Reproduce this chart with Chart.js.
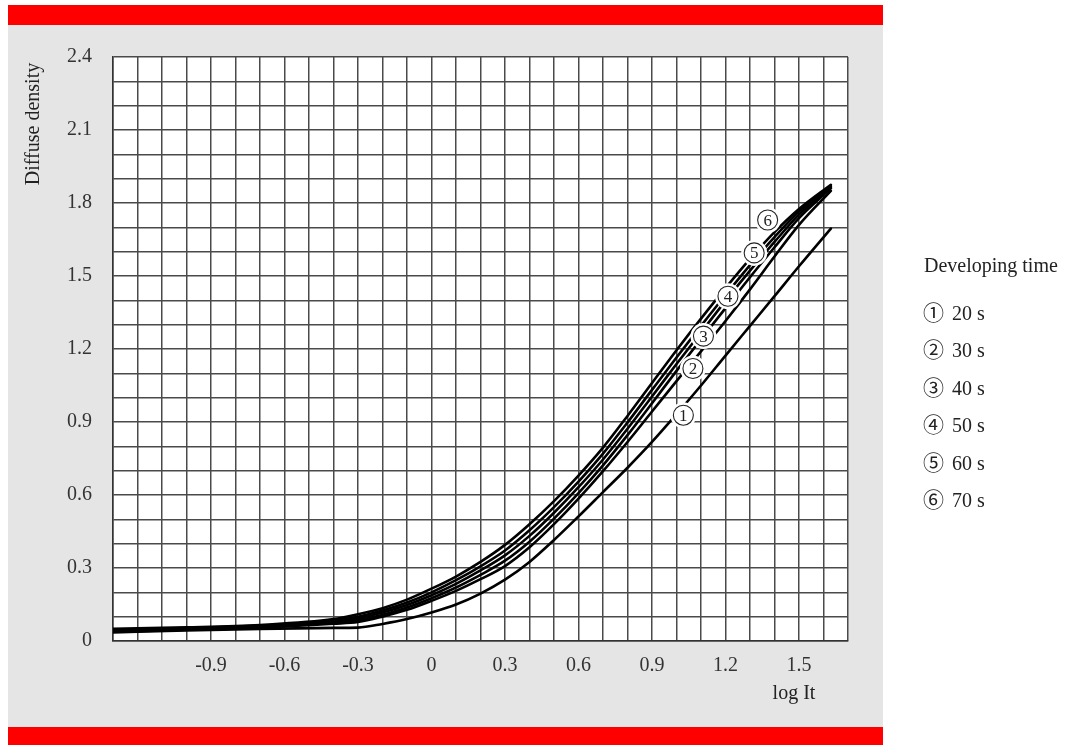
<!DOCTYPE html>
<html>
<head>
<meta charset="utf-8">
<script src="https://cdn.jsdelivr.net/npm/chart.js@4"></script>
<style>
  body { margin: 0; background: #fff; }
  #wrap { position: relative; width: 1071px; height: 745px; }
  .leg { position: absolute; left: 924px; height: 24px; line-height: 24px; font-family: "Liberation Serif", serif; font-size: 20px; color: #222; white-space: nowrap; }
  .num { font-family: "Noto Sans CJK JP", "DejaVu Sans", sans-serif; font-size: 21px; display: inline-block; width: 29px; margin-left: -1px; }
</style>
</head>
<body>
<div id="wrap">
  <canvas id="myChart" width="1071" height="745"></canvas>
</div>
<script>
// log It values shared by all curves
const logIt = [-1.3, -1.0, -0.7, -0.4, -0.3, -0.2, -0.1, 0, 0.1, 0.2, 0.3, 0.4, 0.5, 0.6, 0.7, 0.8, 0.9, 1.0, 1.1, 1.2, 1.3, 1.4, 1.5, 1.63];

// diffuse density per developing time
const dens20 = [0.035, 0.043, 0.050, 0.054, 0.055, 0.070, 0.090, 0.117, 0.150, 0.195, 0.252, 0.325, 0.415, 0.512, 0.612, 0.712, 0.818, 0.932, 1.050, 1.173, 1.295, 1.417, 1.540, 1.695];
const dens30 = [0.038, 0.046, 0.055, 0.071, 0.078, 0.100, 0.128, 0.165, 0.206, 0.254, 0.308, 0.385, 0.480, 0.585, 0.698, 0.818, 0.943, 1.068, 1.190, 1.315, 1.445, 1.580, 1.710, 1.850];
const dens40 = [0.041, 0.049, 0.058, 0.076, 0.085, 0.108, 0.138, 0.176, 0.220, 0.272, 0.330, 0.408, 0.503, 0.608, 0.722, 0.846, 0.977, 1.110, 1.240, 1.368, 1.495, 1.618, 1.738, 1.860];
const dens50 = [0.044, 0.051, 0.061, 0.080, 0.092, 0.117, 0.148, 0.188, 0.235, 0.290, 0.352, 0.432, 0.527, 0.632, 0.746, 0.872, 1.005, 1.138, 1.268, 1.398, 1.522, 1.640, 1.752, 1.865];
const dens60 = [0.046, 0.053, 0.063, 0.085, 0.100, 0.125, 0.158, 0.200, 0.250, 0.307, 0.372, 0.455, 0.550, 0.655, 0.770, 0.898, 1.032, 1.165, 1.295, 1.422, 1.545, 1.660, 1.765, 1.870];
const dens70 = [0.050, 0.056, 0.066, 0.090, 0.110, 0.135, 0.170, 0.215, 0.265, 0.325, 0.395, 0.480, 0.575, 0.680, 0.795, 0.925, 1.060, 1.195, 1.325, 1.450, 1.570, 1.680, 1.775, 1.875];

const seriesNames = ["20 s", "30 s", "40 s", "50 s", "60 s", "70 s"];
const circled = ["①", "②", "③", "④", "⑤", "⑥"];
// where each circled number sits on its curve (logIt, density)
const markAtX = [1.028, 1.067, 1.11, 1.21, 1.317, 1.372];
const markAtY = [0.928, 1.12, 1.253, 1.417, 1.595, 1.73];

const xTickLabels = [-0.9, -0.6, -0.3, 0, 0.3, 0.6, 0.9, 1.2, 1.5];
const yTickLabels = [0, 0.3, 0.6, 0.9, 1.2, 1.5, 1.8, 2.1, 2.4];

const allDens = [dens20, dens30, dens40, dens50, dens60, dens70];
const serif = "Liberation Serif";

const datasets = allDens.map(function (arr, i) {
  return {
    label: seriesNames[i],
    data: arr.map(function (v, j) { return { x: logIt[j], y: v }; }),
    borderColor: "#000",
    borderWidth: 2.6,
    pointRadius: 0,
    cubicInterpolationMode: "monotone",
    borderJoinStyle: "round",
    borderCapStyle: "round",
    fill: false
  };
});

function hasLabel(list, v) {
  return list.some(function (t) { return Math.abs(t - v) < 1e-6; });
}

const frame = {
  id: "frame",
  beforeDraw(chart) {
    const c = chart.ctx, a = chart.chartArea;
    c.save();
    c.fillStyle = "#fff";
    c.fillRect(0, 0, chart.width, chart.height);
    c.fillStyle = "#e5e5e5";
    c.fillRect(8, 25, 875, 702);
    c.fillStyle = "#ff0000";
    c.fillRect(8, 5, 875, 20);
    c.fillRect(8, 727, 875, 18);
    c.fillStyle = "#fff";
    c.fillRect(a.left, a.top, a.right - a.left, a.bottom - a.top);
    c.restore();
  },
  afterDatasetsDraw(chart) {
    const c = chart.ctx;
    const xs = chart.scales.x, ys = chart.scales.y;
    c.save();
    for (let i = 0; i < circled.length; i++) {
      const px = xs.getPixelForValue(markAtX[i]);
      const py = ys.getPixelForValue(markAtY[i]);
      c.fillStyle = "#fff";
      c.beginPath();
      c.arc(px, py, 13, 0, Math.PI * 2);
      c.fill();
      c.strokeStyle = "#222";
      c.lineWidth = 1.1;
      c.beginPath();
      c.arc(px, py, 10, 0, Math.PI * 2);
      c.stroke();
      c.fillStyle = "#222";
      c.font = "17px '" + serif + "'";
      c.textAlign = "center";
      c.textBaseline = "middle";
      c.fillText(String(i + 1), px, py + 1);
    }
    c.restore();
  },
  afterDraw(chart) {
    const c = chart.ctx;
    c.save();
    c.fillStyle = "#222";
    c.font = "20px '" + serif + "'";
    c.textAlign = "center";
    c.textBaseline = "middle";
    c.fillText("log It", 794, 694);
    c.translate(34, 124);
    c.rotate(-Math.PI / 2);
    c.fillText("Diffuse density", 0, 0);
    c.restore();
  }
};

const ctx = document.getElementById("myChart").getContext("2d");
const myChart = new Chart(ctx, {
  type: "line",
  data: { datasets: datasets },
  options: {
    responsive: false,
    animation: false,
    layout: { padding: { left: 8, top: 57, right: 223, bottom: 44 } },
    plugins: { legend: { display: false }, tooltip: { enabled: false } },
    scales: {
      x: {
        type: "linear",
        min: -1.3,
        max: 1.7,
        afterFit(scale) { scale.height = 60; },
        border: { display: true, color: "#333", width: 1.5 },
        grid: { color: "#4a4a4a", lineWidth: 1.5, drawTicks: false },
        ticks: {
          stepSize: 0.1,
          autoSkip: false,
          maxRotation: 0,
          padding: 13,
          color: "#333",
          font: { family: serif, size: 20 },
          callback: function (v) {
            const r = Math.round(v * 10) / 10;
            return hasLabel(xTickLabels, r) ? String(r) : "";
          }
        }
      },
      y: {
        min: 0,
        max: 2.4,
        afterFit(scale) { scale.width = 105; },
        border: { display: true, color: "#333", width: 1.5 },
        grid: { color: "#4a4a4a", lineWidth: 1.5, drawTicks: false },
        ticks: {
          stepSize: 0.1,
          autoSkip: false,
          padding: 21,
          color: "#333",
          font: { family: serif, size: 20 },
          callback: function (v) {
            const r = Math.round(v * 10) / 10;
            return hasLabel(yTickLabels, r) ? String(r) : "";
          }
        }
      }
    }
  },
  plugins: [frame]
});

// legend on the right
const wrap = document.getElementById("wrap");
const legTitle = document.createElement("div");
legTitle.className = "leg";
legTitle.style.top = (265 - 12) + "px";
legTitle.textContent = "Developing time";
wrap.appendChild(legTitle);
const rowY = [311, 348, 386, 423, 461, 498];
seriesNames.forEach(function (name, i) {
  const row = document.createElement("div");
  row.className = "leg";
  row.style.top = (rowY[i] - 12) + "px";
  const n = document.createElement("span");
  n.className = "num";
  n.textContent = circled[i];
  row.appendChild(n);
  row.appendChild(document.createTextNode(name));
  wrap.appendChild(row);
});
</script>
</body>
</html>
